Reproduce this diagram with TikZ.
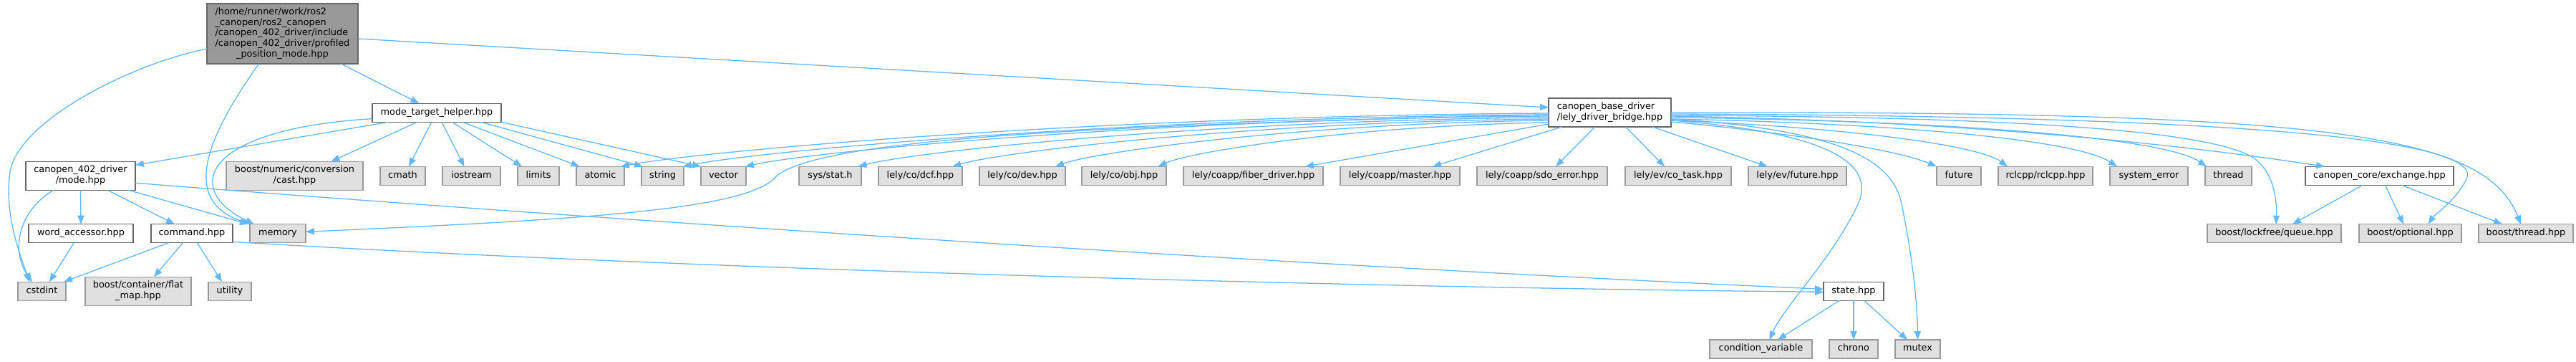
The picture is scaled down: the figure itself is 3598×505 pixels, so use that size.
\documentclass[tikz,border=0pt]{standalone}
\usepackage{fontspec}
\setmainfont{DejaVu Sans}
\usetikzlibrary{arrows.meta}
\definecolor{edgec}{HTML}{63B8FF}
\definecolor{rootfill}{HTML}{999999}
\definecolor{darkb}{HTML}{666666}
\definecolor{extfill}{HTML}{E0E0E0}
\definecolor{extdraw}{HTML}{999999}
\newcommand{\dxl}[1]{\begin{tabular}{@{}l@{}}#1\end{tabular}}
\newcommand{\dxc}[1]{\multicolumn{1}{@{}c@{}}{#1}}
\tikzset{
  nbox/.style={rectangle, inner sep=0pt, outer sep=0pt, line width=1.2pt,
    font=\fontsize{12.85}{14.8}\selectfont, anchor=center, minimum height=26pt},
  rootbox/.style={nbox, draw=darkb, fill=rootfill},
  intbox/.style={nbox, draw=darkb, fill=white},
  extbox/.style={nbox, draw=extdraw, fill=extfill},
  dep/.style={draw=edgec, line width=1.3pt, -{Triangle[length=12pt,width=9pt]}},
}
\begin{document}
\begin{tikzpicture}[x=1pt,y=-1pt]
\path[use as bounding box, fill=white] (0,0) rectangle (3598,505);
% row 0
\node[rootbox, minimum width=211pt, minimum height=84pt] (root) at (394.5,47)
  {\dxl{/home/runner/work/ros2\\\_canopen/ros2\_canopen\\/canopen\_402\_driver/include\\/canopen\_402\_driver/profiled\\\dxc{\_position\_mode.hpp}}};
% row 1
\node[intbox, minimum width=180pt] (mth) at (610,157.3) {\dxl{mode\_target\_helper.hpp}};
\node[intbox, minimum width=171pt, minimum height=40pt] (bridge) at (2248.5,157)
  {\dxl{canopen\_base\_driver\\\dxc{/lely\_driver\_bridge.hpp}}};
% row 2
\node[intbox, minimum width=153pt, minimum height=40pt] (mode) at (112.5,245.3)
  {\dxl{canopen\_402\_driver\\\dxc{/mode.hpp}}};
\node[extbox, minimum width=191pt, minimum height=40pt] (cast) at (411.5,245.3)
  {\dxl{boost/numeric/conversion\\\dxc{/cast.hpp}}};
\node[extbox, minimum width=63pt] (cmath) at (562.5,245.3) {\dxl{cmath}};
\node[extbox, minimum width=81pt] (iostream) at (658.5,245.3) {\dxl{iostream}};
\node[extbox, minimum width=58pt] (limits) at (752,245.3) {\dxl{limits}};
\node[extbox, minimum width=67pt] (atomic) at (838.5,245.3) {\dxl{atomic}};
\node[extbox, minimum width=59pt] (string) at (925.5,245.3) {\dxl{string}};
\node[extbox, minimum width=63pt] (vector) at (1010.5,245.3) {\dxl{vector}};
\node[extbox, minimum width=87pt] (sysstat) at (1159.5,245.3) {\dxl{sys/stat.h}};
\node[extbox, minimum width=117pt] (dcf) at (1285.5,245.3) {\dxl{lely/co/dcf.hpp}};
\node[extbox, minimum width=120pt] (dev) at (1428,245.3) {\dxl{lely/co/dev.hpp}};
\node[extbox, minimum width=118pt] (obj) at (1570,245.3) {\dxl{lely/co/obj.hpp}};
\node[extbox, minimum width=195pt] (fiber) at (1750.5,245.3) {\dxl{lely/coapp/fiber\_driver.hpp}};
\node[extbox, minimum width=167pt] (master) at (1955.5,245.3) {\dxl{lely/coapp/master.hpp}};
\node[extbox, minimum width=182pt] (sdo) at (2154,245.3) {\dxl{lely/coapp/sdo\_error.hpp}};
\node[extbox, minimum width=148pt] (cotask) at (2344,245.3) {\dxl{lely/ev/co\_task.hpp}};
\node[extbox, minimum width=137pt] (evfuture) at (2510.5,245.3) {\dxl{lely/ev/future.hpp}};
\node[extbox, minimum width=62pt] (future) at (2736,245.3) {\dxl{future}};
\node[extbox, minimum width=132pt] (rclcpp) at (2857,245.3) {\dxl{rclcpp/rclcpp.hpp}};
\node[extbox, minimum width=109pt] (syserr) at (3001.5,245.3) {\dxl{system\_error}};
\node[extbox, minimum width=65pt] (thread) at (3112.5,245.3) {\dxl{thread}};
\node[intbox, minimum width=207pt] (exchange) at (3323.5,245.3) {\dxl{canopen\_core/exchange.hpp}};
% row 3
\node[intbox, minimum width=146pt] (word) at (113,325.7) {\dxl{word\_accessor.hpp}};
\node[intbox, minimum width=114pt] (command) at (268,325.7) {\dxl{command.hpp}};
\node[extbox, minimum width=78pt] (memory) at (388,325.7) {\dxl{memory}};
\node[extbox, minimum width=187pt] (queue) at (3176.5,325.7) {\dxl{boost/lockfree/queue.hpp}};
\node[extbox, minimum width=143pt] (optional) at (3366.5,325.7) {\dxl{boost/optional.hpp}};
\node[extbox, minimum width=132pt] (bthread) at (3528,325.7) {\dxl{boost/thread.hpp}};
% row 4
\node[extbox, minimum width=67pt] (cstdint) at (58.5,406.3) {\dxl{cstdint}};
\node[extbox, minimum width=148pt, minimum height=40pt] (flatmap) at (193,406.3)
  {\dxl{boost/container/flat\\\dxc{\_map.hpp}}};
\node[extbox, minimum width=60pt] (utility) at (321,406.3) {\dxl{utility}};
\node[intbox, minimum width=84pt] (state) at (2589,406.3) {\dxl{state.hpp}};
% row 5
\node[extbox, minimum width=143pt] (condvar) at (2459.5,487) {\dxl{condition\_variable}};
\node[extbox, minimum width=68pt] (chrono) at (2589,487) {\dxl{chrono}};
\node[extbox, minimum width=63pt] (mutex) at (2678.5,487) {\dxl{mutex}};

% root edges
\draw[dep] ([xshift=187.5pt]root.south west) -- ([xshift=65.5pt]mth.north west);
\draw[dep] ([xshift=72.6pt]root.south west) .. controls (290,190) and (250,280) .. ([xshift=1pt]memory.north west);
\draw[dep] ([yshift=-21pt]root.west) .. controls (180,90) and (25,170) .. (14,240) .. controls (5,300) and (30,360) .. ([xshift=16pt]cstdint.north west);
\draw[dep] ([yshift=-7pt]root.east) -- ([yshift=7pt]bridge.west);
% mode_target_helper edges
\draw[dep] ([xshift=22.5pt]mth.south west) -- ([yshift=-5pt]mode.north east);
\draw[dep] ([yshift=-8.4pt]mth.west) .. controls (280,180) and (255,265) .. ([xshift=6pt]memory.north west);
\draw[dep] ([xshift=62.7pt]mth.south west) -- ([xshift=51pt]cast.north);
\draw[dep] ([xshift=82.8pt]mth.south west) -- ([xshift=8.5pt]cmath.north);
\draw[dep] ([xshift=97pt]mth.south west) -- ([xshift=-10pt]iostream.north);
\draw[dep] ([xshift=111.5pt]mth.south west) -- ([xshift=-23pt]limits.north);
\draw[dep] ([xshift=125.8pt]mth.south west) -- ([xshift=-29pt]atomic.north);
\draw[dep] ([xshift=151.6pt]mth.south west) -- ([xshift=2pt]string.north west);
\draw[dep] (mth.south east) -- (vector.north west);
% bridge edges, left
\draw[dep] ([yshift=-1pt]bridge.west) .. controls (1514.9,162) and (970.5,212) .. ([xshift=-5pt]atomic.north east);
\draw[dep] ([yshift=-3pt]bridge.west) .. controls (1558.8,164) and (1051.2,212) .. ([xshift=-1pt]string.north east);
\draw[dep] ([yshift=-5pt]bridge.west) .. controls (1602,166) and (1131,212) .. ([xshift=-1pt]vector.north east);
\draw[dep] ([yshift=-3pt]bridge.west) .. controls (1500,175) and (1150,195) .. (1085,245) .. controls (1050,290) and (850,305) .. ([yshift=2.4pt]memory.east);
\draw[dep] ([yshift=-7pt]bridge.west) .. controls (1680.8,168) and (1275.7,212) .. ([xshift=-4.5pt]sysstat.north east);
\draw[dep] ([yshift=-9pt]bridge.west) .. controls (1746.8,170) and (1397.1,212) .. ([xshift=-13.5pt]dcf.north east);
\draw[dep] ([yshift=-11pt]bridge.west) .. controls (1818.5,172) and (1529.1,212) .. ([xshift=-14pt]dev.north east);
\draw[dep] ([yshift=-14pt]bridge.west) .. controls (1890.3,175) and (1661.2,212) .. ([xshift=-11.4pt]obj.north east);
\draw[dep] ([yshift=-16pt]bridge.west) -- ([xshift=-25pt]fiber.north east);
% bridge edges, down
\draw[dep] ([xshift=18.4pt]bridge.south west) -- ([xshift=45.5pt]master.north);
\draw[dep] ([xshift=64.7pt]bridge.south west) -- ([xshift=19pt]sdo.north);
\draw[dep] ([xshift=107.7pt]bridge.south west) -- ([xshift=-19pt]cotask.north);
\draw[dep] ([xshift=145pt]bridge.south west) -- ([xshift=-42pt]evfuture.north);
% bridge edges, right
\draw[dep] ([yshift=-13pt]bridge.east) .. controls (2450,180) and (2640,205) .. (future.north west);
\draw[dep] ([yshift=-11pt]bridge.east) .. controls (2550,176) and (2760,200) .. ([xshift=13pt]rclcpp.north west);
\draw[dep] ([yshift=-9pt]bridge.east) .. controls (2650,172) and (2900,195) .. ([xshift=10pt]syserr.north west);
\draw[dep] ([yshift=-7pt]bridge.east) .. controls (2700,168) and (3020,190) .. ([xshift=2pt]thread.north west);
\draw[dep] ([yshift=-5pt]bridge.east) .. controls (2800,170) and (3100,210) .. ([xshift=27pt]exchange.north west);
\draw[dep] ([yshift=-4pt]bridge.east) .. controls (2850,163) and (3100,185) .. (3150,222) .. controls (3180,245) and (3180,290) .. ([xshift=2.5pt]queue.north);
\draw[dep] ([yshift=-2pt]bridge.east) .. controls (3200,162) and (3470,200) .. (3445,250) .. controls (3430,280) and (3400,300) .. ([xshift=25pt]optional.north);
\draw[dep] (bridge.east) .. controls (3250,155) and (3470,185) .. ([xshift=-7pt]bthread.north);
\draw[dep] ([yshift=-11pt]bridge.east) .. controls (2560,185) and (2620,230) .. (2595,285) .. controls (2560,360) and (2490,430) .. ([xshift=12pt]condvar.north);
\draw[dep] ([yshift=-9pt]bridge.east) .. controls (2560,180) and (2640,220) .. (2655,280) .. controls (2670,350) and (2678,420) .. (mutex.north);
% mode edges
\draw[dep] (mode.south) -- (word.north);
\draw[dep] ([xshift=114.4pt]mode.south west) -- ([xshift=33pt]command.north west);
\draw[dep] ([xshift=143.7pt]mode.south west) -- ([xshift=-2pt]memory.north west);
\draw[dep] ([xshift=38.6pt]mode.south west) .. controls (25,295) and (15,350) .. ([xshift=20pt]cstdint.north west);
\draw[dep] ([yshift=-10pt]mode.east) .. controls (800,303) and (1750,368) .. ([yshift=3pt]state.west);
% command edges
\draw[dep] ([yshift=-11.7pt]command.east) .. controls (900,372) and (1800,400) .. ([yshift=-1pt]state.west);
\draw[dep] ([xshift=24.3pt]command.south west) -- ([xshift=-3pt]cstdint.north east);
\draw[dep] ([xshift=44.4pt]command.south west) -- ([xshift=22pt]flatmap.north);
\draw[dep] ([xshift=64.5pt]command.south west) -- ([xshift=-11pt]utility.north);
% word accessor
\draw[dep] ([xshift=63.3pt]word.south west) -- ([xshift=10.4pt]cstdint.north);
% state edges
\draw[dep] ([xshift=22pt]state.south west) -- ([xshift=23.5pt]condvar.north);
\draw[dep] (state.south) -- (chrono.north);
\draw[dep] ([xshift=56.7pt]state.south west) -- ([xshift=-14.5pt]mutex.north);
% exchange edges
\draw[dep] ([xshift=80pt]exchange.south west) -- ([xshift=25.5pt]queue.north);
\draw[dep] ([xshift=111.5pt]exchange.south west) -- ([xshift=-9.5pt]optional.north);
\draw[dep] ([xshift=134.4pt]exchange.south west) -- ([xshift=-33pt]bthread.north);
\end{tikzpicture}
\end{document}
